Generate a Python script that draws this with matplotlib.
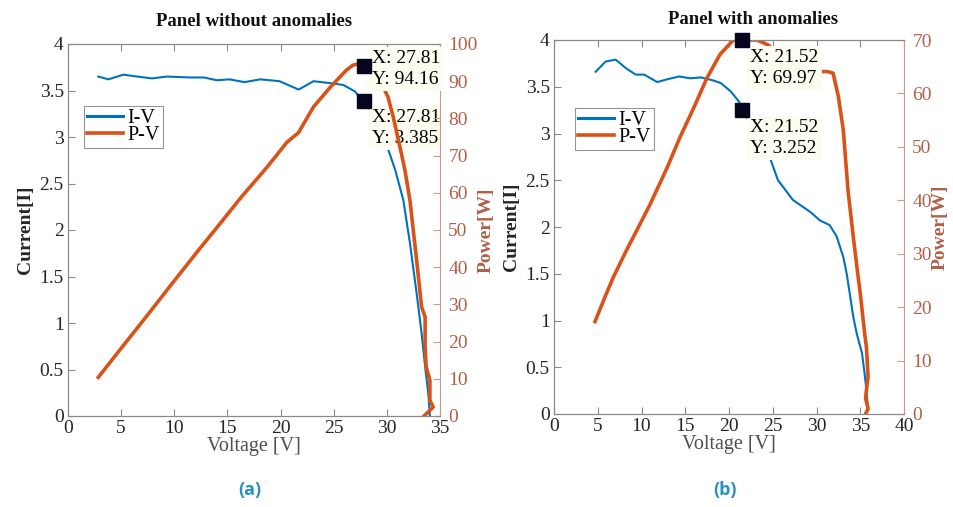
import matplotlib
matplotlib.use("Agg")
import matplotlib.pyplot as plt
from matplotlib.lines import Line2D

plt.rcParams['font.family'] = ['Liberation Serif', 'DejaVu Serif']

# ---------------- data ----------------
titles = ["Panel without anomalies", "Panel with anomalies"]
sub_labels = ["(a)", "(b)"]
legend_labels = ["I-V", "P-V"]

# panel (a)
va_iv = [2.85, 3.8, 5.2, 6.5, 7.9, 9.3, 11.5, 12.8, 14.0, 15.2, 16.6, 18.1, 19.9, 21.7,
         23.1, 24.6, 25.9, 27.0, 27.6, 27.81, 28.5, 29.5, 30.3, 30.8, 31.55, 32.17, 32.8,
         33.27, 33.6, 33.9, 34.05]
ia = [3.65, 3.62, 3.67, 3.65, 3.63, 3.65, 3.64, 3.64, 3.61, 3.62, 3.59, 3.62, 3.60, 3.51,
      3.60, 3.58, 3.56, 3.49, 3.40, 3.385, 3.28, 3.06, 2.81, 2.64, 2.32, 1.86, 1.32,
      0.89, 0.53, 0.24, 0.0]
va_pv = [2.85, 5.0, 7.5, 9.9, 12.4, 14.5, 16.2, 18.7, 20.6, 21.7, 22.1, 23.1, 24.65, 26.2,
         26.8, 27.47, 27.81, 28.5, 29.4, 30.1, 30.6, 31.4, 31.7, 32.17, 32.8, 33.27, 33.6,
         33.6, 33.7, 34.05, 34.05, 34.36, 33.9, 33.5]
pa = [10.4, 18.2, 27.2, 36.0, 45.0, 52.4, 58.5, 66.8, 73.6, 76.2, 78.2, 83.1, 88.3, 93.0,
      94.3, 94.8, 94.16, 93.5, 90.0, 85.8, 80.4, 70.1, 66.1, 58.0, 41.9, 29.3, 26.6,
      18.6, 13.2, 9.6, 4.2, 2.4, 1.1, 0.0]

# panel (b)
vb_iv = [4.76, 5.9, 7.05, 8.2, 9.33, 10.3, 11.8, 12.95, 14.3, 15.6, 16.8, 18.1, 19.05, 20.2,
         21.15, 21.52, 22.5, 23.5, 24.5, 25.06, 25.6, 27.3, 29.3, 30.4, 31.5, 32.3, 33.06,
         33.45, 33.8, 34.2, 34.6, 35.2, 35.5, 35.7, 35.9]
ib = [3.66, 3.77, 3.79, 3.70, 3.63, 3.63, 3.55, 3.58, 3.61, 3.59, 3.60, 3.57, 3.54, 3.45,
      3.34, 3.252, 3.10, 2.95, 2.79, 2.64, 2.50, 2.29, 2.16, 2.07, 2.02, 1.90, 1.68,
      1.50, 1.29, 1.04, 0.86, 0.65, 0.43, 0.26, 0.04]
vb_pv = [4.69, 5.9, 6.78, 8.3, 9.5, 10.97, 12.9, 14.4, 16.0, 17.45, 18.97, 20.5, 21.52, 23.2,
         24.5, 25.5, 26.5, 27.5, 28.5, 29.8, 31.2, 31.9, 32.5, 33.06, 33.6, 34.2, 34.8,
         35.0, 35.5, 35.7, 35.9, 35.6, 35.9, 35.6]
pb = [17.3, 22.2, 25.6, 30.7, 34.5, 39.2, 46.0, 51.8, 57.4, 62.8, 67.3, 70.0, 69.97, 70.0,
      69.06, 67.5, 66.0, 65.0, 64.5, 64.1, 64.1, 63.8, 59.4, 53.2, 41.9, 33.2, 25.1,
      22.6, 15.1, 12.6, 7.0, 3.0, 1.0, 0.0]

tips = [  # (V, I, P)
    (27.81, 3.385, 94.16),
    (21.52, 3.252, 69.97),
]

xlims = [(0, 35), (0, 40)]
plims = [(0, 100), (0, 70)]
ptick_step = 10

panels = [(va_iv, ia, va_pv, pa), (vb_iv, ib, vb_pv, pb)]

# ---------------- style ----------------
BLUE = '#0072BD'
ORANGE = '#D95319'
BROWN = '#B0604A'
DARK = '#262626'
SPINE = '#8a8a8a'
TIPBG = '#fcfcf0'

fig = plt.figure(figsize=(9.54, 5.07), dpi=100)
rects = [(68 / 954, 1 - 416 / 507, 372 / 954, 372 / 507),
         (554 / 954, 1 - 414 / 507, 350 / 954, 374 / 507)]
title_x = [254 / 954, 753 / 954]
title_y = [1 - 21 / 507, 1 - 20 / 507]
sub_x = [250 / 954, 725 / 954]
# text offsets (pixels) for the datatips: P tip, I tip
p_off = [(8, 16), (8, -9)]
i_off = [(8, -8), (8, -9)]

FS = 14
TFS = 14

for k in range(2):
    v_iv, cur, v_pv, pw = panels[k]
    ax = fig.add_axes(rects[k])
    ax2 = ax.twinx()
    ax.plot(v_iv, cur, color=BLUE, lw=1.5, zorder=2)
    ax2.plot(v_pv, pw, color=ORANGE, lw=2.6, zorder=2)

    ax.set_xlim(*xlims[k])
    ax.set_ylim(0, 4)
    ax2.set_ylim(*plims[k])
    ax.set_xticks(list(range(xlims[k][0], xlims[k][1] + 1, 5)))
    ax.set_yticks([0, 0.5, 1, 1.5, 2, 2.5, 3, 3.5, 4])
    ax.set_yticklabels(['0', '0.5', '1', '1.5', '2', '2.5', '3', '3.5', '4'])
    ax2.set_yticks(list(range(plims[k][0], plims[k][1] + 1, ptick_step)))

    ax.tick_params(axis='both', direction='in', length=5, width=0.8, colors=SPINE,
                   labelcolor=DARK, labelsize=FS, top=True, pad=3)
    ax.tick_params(axis='y', right=False)
    ax2.tick_params(axis='y', direction='in', length=5, width=0.8, colors='#c89a8c',
                    labelcolor=BROWN, labelsize=FS, pad=6)
    for s in ['left', 'bottom', 'top']:
        ax.spines[s].set_color(SPINE)
        ax2.spines[s].set_color(SPINE)
    ax2.spines['right'].set_color('#c89a8c')
    ax.spines['right'].set_visible(False)

    ax.set_xlabel('Voltage [V]', fontsize=FS + 0.5, color='#505050', labelpad=0)
    ax.set_ylabel('Current[I]', fontsize=FS, color=DARK, fontweight='bold', labelpad=4)
    ax2.set_ylabel('Power[W]', fontsize=FS, color=BROWN, fontweight='bold', labelpad=0)

    fig.text(title_x[k], title_y[k], titles[k], ha='center', va='center',
             fontsize=13.5, fontweight='bold', color='#111111')
    fig.text(sub_x[k], 1 - 490 / 507, sub_labels[k], ha='center', va='center',
             fontsize=13, fontweight='bold', color='#2a8fc1', family='Open Sans')

    tv, ti, tp = tips[k]
    # I-V datatip on primary axes (under orange line)
    ax.annotate(f"X: {tv:.2f}\nY: {ti:.3f}", xy=(tv, ti), xytext=i_off[k],
                textcoords='offset pixels', ha='left', va='top', fontsize=TFS,
                linespacing=1.3, color='black', zorder=5,
                bbox=dict(boxstyle='square,pad=0.15', fc=TIPBG, ec='none'))
    ax2.annotate(f"X: {tv:.2f}\nY: {tp:.2f}", xy=(tv, tp), xytext=p_off[k],
                 textcoords='offset pixels', ha='left', va='top', fontsize=TFS,
                 linespacing=1.3, color='black', zorder=5, annotation_clip=False,
                 bbox=dict(boxstyle='square,pad=0.15', fc=TIPBG, ec='none'))
    ax2.plot([tv], [tp], marker='s', ms=10, color='#05051e', zorder=10, clip_on=False)
    ax2.plot([tv], [ti * plims[k][1] / 4.0], marker='s', ms=10, color='#05051e',
             zorder=10, clip_on=False)

    handles = [Line2D([], [], color=BLUE, lw=2.2), Line2D([], [], color=ORANGE, lw=2.6)]
    leg_anchor = [(0.043, 0.833), (0.06, 0.818)][k]
    leg = ax2.legend(handles, legend_labels, loc='upper left', bbox_to_anchor=leg_anchor,
                     fontsize=FS + 0.5, frameon=True, fancybox=False, handlelength=1.8,
                     handletextpad=0.2, borderpad=0.15, labelspacing=-0.1,
                     borderaxespad=0)
    leg.get_frame().set_edgecolor('#7a7a7a')
    leg.get_frame().set_linewidth(0.8)
    leg.set_zorder(20)

fig.savefig('out.png', dpi=100)
